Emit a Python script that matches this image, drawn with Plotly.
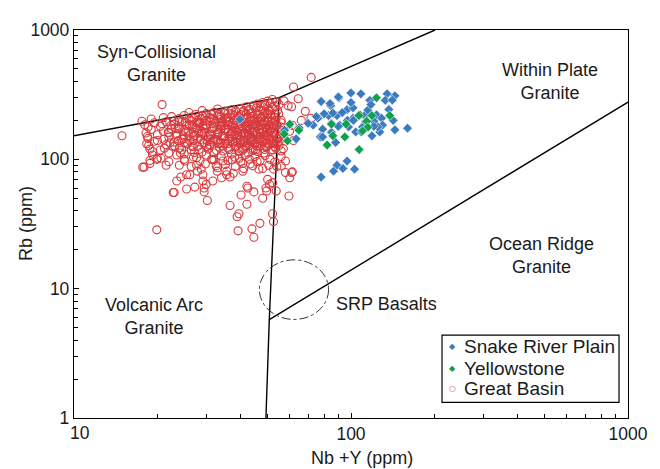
import plotly.graph_objects as go

# ---------------- data (Nb+Y ppm, Rb ppm) ----------------
snake_river_plain = [
    (99.9, 326), (108.6, 321), (90.4, 299), (78, 280), (84.5, 260), (135, 321), (144, 310),
    (133, 286), (117, 286), (141, 287), (96.8, 242), (101.7, 250), (89, 218), (83, 218),
    (76, 208), (107.7, 221), (112, 218), (101.7, 208), (123.6, 221), (129, 208), (121, 197),
    (130, 184), (144, 169), (160, 174), (73, 184), (79, 171), (91, 184), (98, 178), (110, 178),
    (119, 152), (127, 163), (125, 178), (104, 163), (109, 163), (77.5, 149), (85, 190),
    (79, 149), (88, 135), (85, 162), (90, 180), (97, 200), (102, 200), (90, 304), (84, 270),
    (121, 180), (96.8, 97), (89, 90), (93.5, 85), (86.5, 81), (103, 84), (78, 73), (39.7, 204),
    (57.6, 168), (63.4, 144), (75, 214), (80, 225), (86, 228), (93, 230), (115, 240),
    (118, 265), (137, 243), (100, 275), (142, 200), (113, 196), (70, 190), (65, 175),
]

yellowstone = [
    (123.6, 299), (106.8, 218), (119, 218), (138, 218), (96, 187), (85, 187), (114, 197),
    (115, 177), (110, 166), (86, 152), (95, 149), (82, 129), (107, 119), (60.1, 187),
    (64.8, 168), (59, 139), (57.4, 157),
]

great_basin = [
    # outliers
    (14.9, 152), (20.8, 265), (71.8, 430), (62, 362), (64.5, 294), (17.6, 197), (17.9, 87),
    (19.9, 28.5), (22.8, 55.4), (23.5, 68),
    # upper band
    (19, 205), (21, 210), (22.5, 214), (24, 207), (25, 218), (26.5, 212), (27.5, 222),
    (29, 216), (30, 226), (31, 210), (32, 230), (33.5, 222), (35, 236), (36, 228), (37, 242),
    (38.5, 232), (40, 248), (41, 238), (42, 255), (43, 244), (44.5, 260), (45.5, 250),
    (46, 268), (47, 256), (48, 275), (49, 262), (50, 282), (51, 270), (52, 290), (53, 258),
    (54, 280), (55, 265), (39, 215), (34, 205), (28, 200), (23, 198), (44, 230), (48, 238),
    (52, 245), (26, 230), (29, 238), (33, 245),
    # main band
    (18.5, 178), (18.2, 160), (18, 185), (18.5, 145), (19, 170), (19.5, 192), (20, 155),
    (20.5, 180), (21, 165), (21.5, 195), (22, 148), (22.5, 172), (23, 186), (23.5, 158),
    (24, 195), (24.5, 143), (25, 168), (25.5, 182), (26, 152), (26.5, 198), (27, 162),
    (27.5, 176), (28, 145), (28.5, 190), (29, 158), (29.5, 172), (30, 185), (30.5, 150),
    (31, 196), (31.5, 165), (32, 178), (32.5, 142), (33, 160), (33.5, 190), (34, 172),
    (34.5, 152), (35, 183), (35.5, 198), (36, 162), (36.5, 145), (37, 178), (37.5, 192),
    (38, 155), (38.5, 168), (39, 185), (39.5, 147), (40, 200), (40.5, 175), (41, 160),
    (41.5, 190), (42, 150), (42.5, 182), (43, 166), (43.5, 198), (44, 142), (44.5, 175),
    (45, 188), (45.5, 158), (46, 205), (46.5, 170), (47, 148), (47.5, 185), (48, 162),
    (48.5, 196), (49, 175), (49.5, 152), (50, 210), (50.5, 182), (51, 165), (51.5, 195),
    (52, 150), (52.5, 178), (53, 160), (53.5, 200), (54, 185), (55, 170), (56, 192), (57, 158),
    # lower main band
    (18.8, 120), (18.3, 132), (19.2, 115), (18.6, 128), (19.5, 138), (20.5, 118), (21.5, 130),
    (22, 112), (23, 136), (24, 122), (25, 110), (25.5, 132), (26.5, 118), (27, 140), (28, 126),
    (29, 114), (29.5, 135), (30.5, 120), (31, 130), (32, 112), (33, 138), (33.5, 124),
    (34.5, 116), (35, 132), (36, 122), (37, 110), (37.5, 138), (38.5, 126), (39.5, 115),
    (40, 134), (41, 120), (42, 128), (42.5, 112), (43.5, 138), (44, 122), (45, 132), (46, 115),
    (47, 126), (48, 136), (48.5, 112), (49.5, 124), (50.5, 130), (51.5, 118), (52.5, 138),
    (53.5, 122), (55, 128), (56, 116),
    # dense core
    (26, 205), (28, 188), (30, 175), (32, 205), (34, 195), (36, 212), (38, 200), (40, 222),
    (42, 210), (44, 215), (46, 225), (48, 215), (50, 228), (27, 150), (29, 165), (31, 142),
    (33, 155), (35, 168), (37, 150), (39, 162), (41, 140), (43, 155), (45, 165), (47, 140),
    (49, 155), (51, 145), (25, 135), (27, 125), (31, 155), (35, 145), (39, 135), (43, 128),
    (47, 160), (36, 185), (40, 170), (44, 185), (48, 190), (30, 200), (34, 180), (38, 175),
    (42, 170), (46, 180), (50, 195), (24, 175), (22, 160), (20, 140), (18.4, 150),
    (22.8, 125), (23.8, 140), (24.8, 152), (25.8, 165), (26.8, 178), (27.8, 192), (28.8, 205),
    (29.8, 218), (30.8, 128), (31.8, 138), (32.8, 170), (33.8, 212), (34.8, 225), (35.8, 132),
    (36.8, 158), (37.8, 218), (38.8, 145), (39.8, 190), (40.8, 232), (41.8, 178), (42.8, 195),
    (43.8, 148), (44.8, 205), (45.8, 142), (46.8, 195), (47.8, 172), (48.8, 230), (49.8, 168),
    (50.8, 240), (51.8, 175), (52.8, 212), (53.8, 145), (54.8, 225), (55.8, 178), (21.2, 122),
    (23.2, 175), (25.2, 195), (27.2, 113), (29.2, 182), (31.2, 222), (33.2, 132), (35.2, 205),
    (37.2, 165), (39.2, 122), (41.2, 205), (43.2, 225), (45.2, 118), (47.2, 210), (49.2, 140),
    (51.2, 222), (53.2, 132), (55.2, 150), (19.2, 108), (20.8, 188), (24.2, 112), (26.2, 140),
    (28.2, 160), (30.2, 140), (32.2, 190), (34.2, 150), (36.2, 195), (38.2, 138), (40.2, 158),
    (42.2, 140), (44.2, 160), (46.2, 135), (48.2, 150), (50.2, 160), (52.2, 190), (54.2, 135),
    (24.5, 118), (28.3, 119), (32.7, 117), (36.3, 119), (40.6, 118), (44.3, 117), (48.7, 119),
    (52.3, 118), (23.1, 127), (26.7, 126), (30.1, 125), (34.4, 127), (38.1, 125), (41.7, 126),
    (45.7, 127), (49.1, 126), (53.1, 125), (22.2, 134), (25.7, 133), (29.1, 134), (33.9, 135),
    (37.7, 133), (41.4, 134), (45.1, 135), (49.5, 133), (51.9, 134), (21.1, 143), (24.9, 144),
    (28.6, 142), (32.1, 144), (35.9, 143), (39.7, 142), (43.2, 144), (46.9, 143), (50.7, 142),
    (54.5, 144), (23.5, 151), (27.3, 153), (31.1, 152), (34.9, 151), (38.6, 153), (42.6, 152),
    (46.1, 151), (49.9, 153), (53.6, 152), (21.9, 162), (25.3, 163), (29.6, 161), (33.2, 162),
    (37.3, 163), (41.2, 161), (44.7, 162), (48.4, 163), (52.1, 161), (23.7, 172), (27.9, 171),
    (31.6, 173), (35.5, 172), (39.3, 171), (43.1, 173), (46.8, 172), (50.9, 171), (22.4, 183),
    (26.1, 184), (29.9, 182), (33.6, 183), (37.6, 184), (41.6, 182), (45.3, 183), (49.6, 184),
    (53.9, 182), (24.6, 196), (28.4, 194), (32.5, 195), (36.6, 196), (40.9, 194), (44.6, 195),
    (48.9, 196), (52.6, 194), (27.1, 208), (31.4, 207), (35.6, 209), (39.6, 208), (43.4, 207),
    (47.6, 209), (51.6, 208), (33.1, 221), (37.4, 223), (41.9, 222), (45.9, 221), (49.9, 223),
    (53.4, 222), (38.3, 238), (42.6, 237), (46.6, 239), (50.4, 238), (54.3, 240),
    # bottom of the cloud
    (18.8, 98), (20, 102), (22, 96), (23.5, 108), (25, 100), (27, 104), (28.5, 97), (30, 108),
    (32, 100), (34, 106), (36, 98), (38, 104), (40, 96), (41.5, 108), (43, 100), (45, 105),
    (47, 98), (49, 107), (51, 100), (53, 95), (24, 90), (26.5, 88), (29.8, 92), (33, 86),
    (35.2, 91), (38.2, 88), (41, 85), (44.2, 89), (46.5, 84), (50.5, 90), (54, 88), (21.5, 90),
    (28.8, 84), (39.5, 102), (45.8, 96),
    # lower scatter
    (17.7, 87), (18.8, 93), (19.9, 100), (20.6, 102), (23.0, 55.4), (24.3, 73), (25.5, 59),
    (25.5, 76), (26.2, 76), (27.3, 61), (27.9, 81), (27.7, 90), (29.2, 76), (29.2, 68),
    (29.5, 60), (29.5, 56), (30.3, 48), (30.0, 64), (31.7, 68), (31.7, 99), (32.6, 89),
    (32.9, 81), (34.1, 72), (35.6, 81), (35.6, 76), (36.6, 44), (36.6, 73), (37.6, 78),
    (38.8, 36), (39.4, 38), (40.1, 53), (40.7, 81), (39.1, 28), (42.1, 45), (42.1, 62),
    (42.4, 60), (43.9, 29), (44.6, 25), (44.6, 56), (46.9, 32), (48.0, 50), (48.0, 85),
    (49.3, 60), (49.6, 57), (50.0, 70), (50.8, 64), (52.1, 38), (52.5, 33), (52.5, 84),
    (53.7, 57), (52.1, 66), (56.0, 89), (59.7, 52), (60.1, 72), (61.4, 80), (25.1, 97),
    (27.7, 103), (31.4, 100), (34.5, 97), (37.3, 99), (40.7, 93), (43.3, 92),
    # right of the VAG/WPG boundary
    (57.3, 283), (59.3, 260), (61, 255), (68.4, 235), (71.7, 208), (66.2, 200), (56, 200),
    (57.3, 177), (61.4, 183), (48.8, 265), (55, 137), (57, 121), (56, 105), (58, 97),
    (61, 79), (58, 79), (60, 165), (62, 140),
]

# discrimination boundaries (Nb+Y, Rb)
syncol_vag_x = [2, 55]
syncol_vag_y = [80, 300]
syncol_wpg_x = [55, 201]
syncol_wpg_y = [300, 1000]
vag_wpg_x = [55, 50.7, 49.3]
vag_wpg_y = [300, 5.76, 1]
org_wpg_x = [50.7, 1000]
org_wpg_y = [5.76, 277]

# SRP basalt field (ellipse bounding box, data units)
srp_x = [46.7, 83.0]
srp_y = [5.78, 16.7]

RED = "#d8393c"
BLUE = "#3b7cc0"
GREEN = "#11a04e"
FONT = "Arial, Liberation Sans, sans-serif"
TXT = "#1a1a1a"

fig = go.Figure()

for lx, ly in [(syncol_vag_x, syncol_vag_y), (syncol_wpg_x, syncol_wpg_y),
               (vag_wpg_x, vag_wpg_y), (org_wpg_x, org_wpg_y)]:
    fig.add_trace(go.Scatter(x=lx, y=ly, mode="lines",
                             line=dict(color="black", width=1.4),
                             showlegend=False, hoverinfo="skip"))

fig.add_trace(go.Scatter(
    x=[p[0] for p in great_basin], y=[p[1] for p in great_basin], mode="markers",
    name="Great Basin",
    marker=dict(symbol="circle-open", size=8, color=RED, line=dict(width=1.1, color=RED)),
    showlegend=False))
fig.add_trace(go.Scatter(
    x=[p[0] for p in snake_river_plain], y=[p[1] for p in snake_river_plain], mode="markers",
    name="Snake River Plain",
    marker=dict(symbol="diamond", size=7.5, color=BLUE, line=dict(width=0.6, color="white")),
    showlegend=False))
fig.add_trace(go.Scatter(
    x=[p[0] for p in yellowstone], y=[p[1] for p in yellowstone], mode="markers",
    name="Yellowstone",
    marker=dict(symbol="diamond", size=7.5, color=GREEN, line=dict(width=0.6, color="white")),
    showlegend=False))

fig.add_shape(type="circle", xref="x", yref="y",
              x0=srp_x[0], x1=srp_x[1], y0=srp_y[0], y1=srp_y[1],
              line=dict(color="#333333", width=1, dash="dashdot"))

# field labels
labels = [
    ("Syn-Collisional<br>Granite", 0.1498, 0.9145),
    ("Within Plate<br>Granite", 0.859, 0.8667),
    ("Ocean Ridge<br>Granite", 0.843, 0.4176),
    ("SRP Basalts", 0.5632, 0.2943),
    ("Volcanic Arc<br>Granite", 0.1444, 0.2616),
]
for txt, xp, yp in labels:
    fig.add_annotation(text=txt, x=xp, y=yp, xref="paper", yref="paper",
                       showarrow=False, xanchor="center", yanchor="middle",
                       font=dict(family=FONT, size=18, color=TXT))

# axis titles
fig.add_annotation(text="Nb +Y (ppm)", x=0.519, y=-0.103, xref="paper", yref="paper",
                   showarrow=False, xanchor="center", yanchor="middle",
                   font=dict(family=FONT, size=18, color=TXT))
fig.add_annotation(text="Rb (ppm)", x=-0.0866, y=0.5, xref="paper", yref="paper",
                   showarrow=False, textangle=-90, xanchor="center", yanchor="middle",
                   font=dict(family=FONT, size=18, color=TXT))
# first x tick label sits slightly right of its tick, clear of the y label "1"
fig.add_annotation(text="10", x=0.0108, y=-0.0377, xref="paper", yref="paper",
                   showarrow=False, xanchor="center", yanchor="middle",
                   font=dict(family=FONT, size=17.5, color=TXT))

# manual legend
fig.add_shape(type="rect", xref="paper", yref="paper", x0=0.6643, x1=0.9838,
              y0=0.0403, y1=0.2138, line=dict(color="black", width=1.2),
              fillcolor="white", layer="above")
leg = [("Snake River Plain", "◆", BLUE, 0.1836),
       ("Yellowstone", "◆", GREEN, 0.1283),
       ("Great Basin", "○", RED, 0.0755)]
for name, sym, col, yp in leg:
    fig.add_annotation(text=sym, x=0.6841, y=yp, xref="paper", yref="paper",
                       showarrow=False, xanchor="center", yanchor="middle",
                       font=dict(family="DejaVu Sans", size=8, color=col))
    fig.add_annotation(text=name, x=0.7012, y=yp, xref="paper", yref="paper",
                       showarrow=False, xanchor="left", yanchor="middle",
                       font=dict(family=FONT, size=19, color=TXT))

x_minor = [m * d for d in (10, 100) for m in range(2, 10)]
y_minor = [m * d for d in (1, 10, 100) for m in range(2, 10)]

fig.update_xaxes(type="log", range=[1, 3], showline=True, linecolor="black", linewidth=1.3,
                 mirror=True, ticks="inside", ticklen=5, tickcolor="black",
                 tickvals=[10, 100, 1000], ticktext=["", "100", "1000"],
                 minor=dict(ticks="inside", ticklen=4, tickcolor="black", tickvals=x_minor),
                 showgrid=False, zeroline=False,
                 tickfont=dict(family=FONT, size=17.5, color=TXT))
fig.update_yaxes(type="log", range=[0, 3], showline=True, linecolor="black", linewidth=1.3,
                 mirror=True, ticks="inside", ticklen=5, tickcolor="black",
                 tickvals=[1, 10, 100, 1000], ticktext=["1", "10", "100", "1000"],
                 minor=dict(ticks="inside", ticklen=4, tickcolor="black", tickvals=y_minor),
                 showgrid=False, zeroline=False,
                 tickfont=dict(family=FONT, size=17.5, color=TXT))

# the page body has an 8 px margin, so the figure is sized to fit the window
fig.update_layout(width=652, height=461, margin=dict(l=66, r=32, t=12.5, b=51),
                  paper_bgcolor="white", plot_bgcolor="white", showlegend=False)

fig.write_html("out.html")
